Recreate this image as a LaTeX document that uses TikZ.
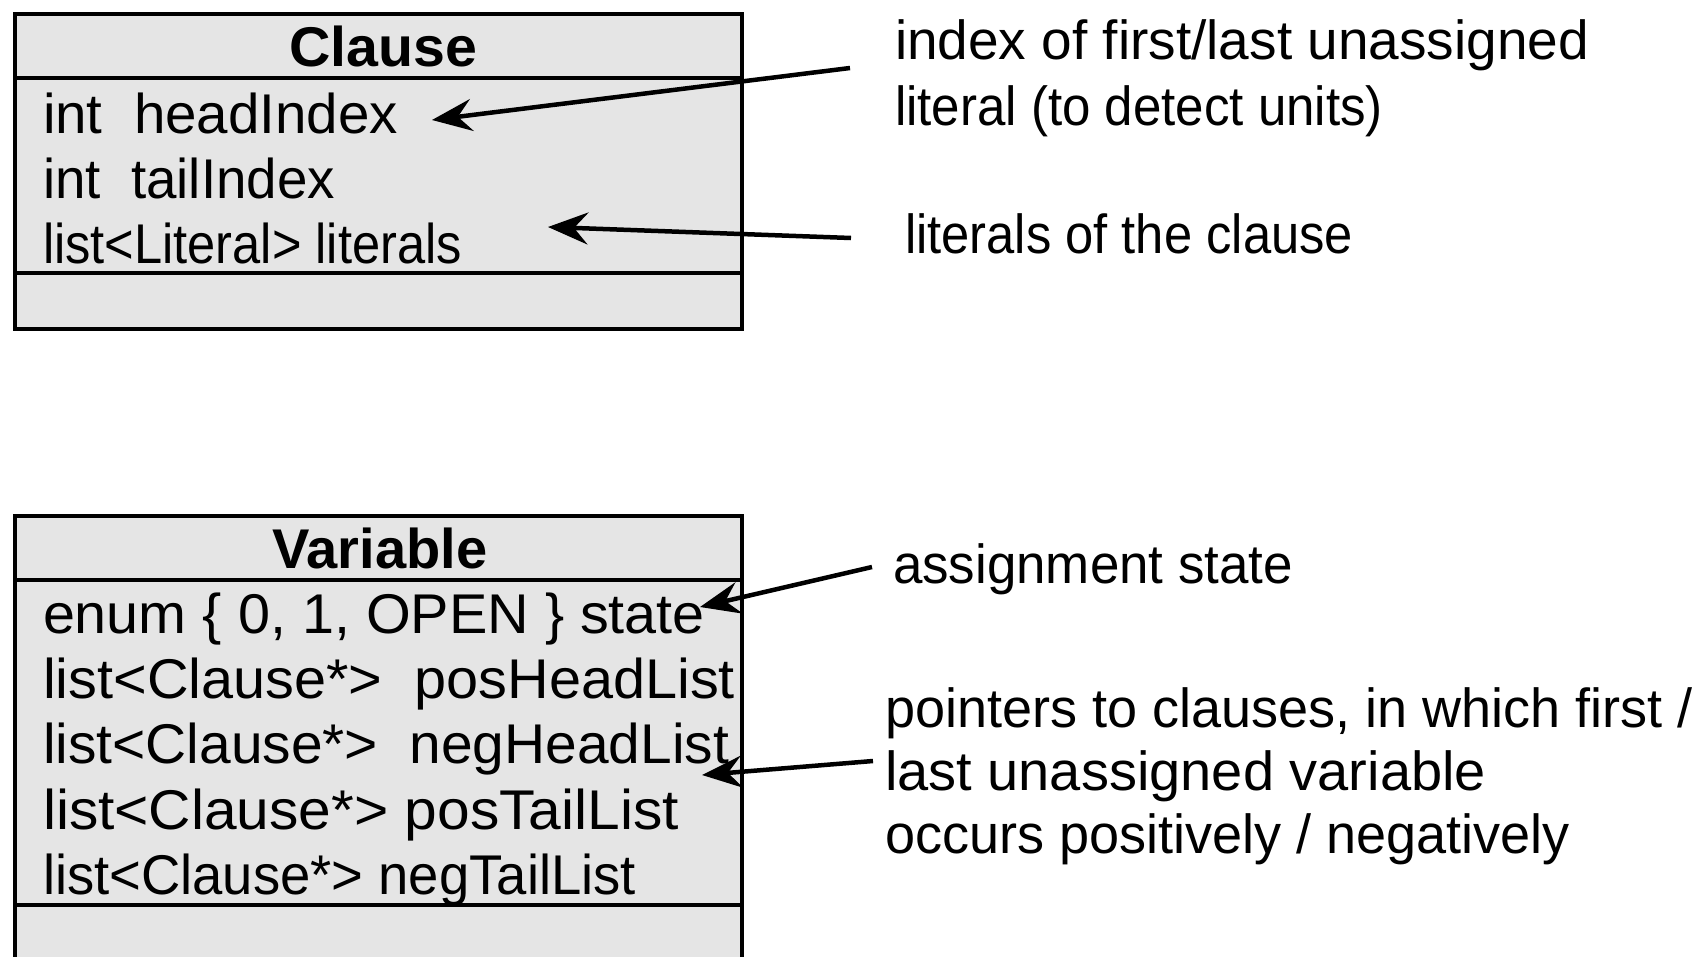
\documentclass[tikz,border=0pt]{standalone}
\usepackage{fontspec}
\setmainfont{Liberation Sans}
\usepackage{graphicx}
\usetikzlibrary{arrows.meta}
\newcommand{\fitwd}[2]{\resizebox{#1bp}{\height}{#2}}
\definecolor{boxgray}{gray}{0.9}
\tikzset{
  umlbox/.style={draw=black, line width=3.5bp, fill=boxgray},
  sepline/.style={draw=black, line width=3.5bp},
  attr/.style={anchor=base west, inner sep=0pt, outer sep=0pt, font=\fontsize{56bp}{60bp}\selectfont},
  ttl/.style={anchor=base, inner sep=0pt, outer sep=0pt, font=\fontsize{56bp}{60bp}\selectfont\bfseries},
  note/.style={anchor=base west, inner sep=0pt, outer sep=0pt, font=\fontsize{55bp}{60bp}\selectfont},
  pointer/.style={draw=black, line width=4.5bp, -{Stealth[length=40bp, width=32bp, inset=14bp]}},
}
\begin{document}
\begin{tikzpicture}[x=1bp, y=-1bp]
\useasboundingbox (0,0) rectangle (1705,956);
\fill[white] (0,0) rectangle (1705,956);
\begin{scope}
\clip (0,0) rectangle (1705,956);
% Clause box
\draw[umlbox] (15,14) rectangle (742,329);
\draw[sepline] (15,78) -- (742,78);
\draw[sepline] (15,273) -- (742,273);
\node[ttl] (clausetitle) at (383.5,66) {\fitwd{188}{Clause}};
\node[attr] (headidx) at (43,133) {\fitwd{355}{int\ \ headIndex}};
\node[attr] (tailidx) at (43,198) {\fitwd{292}{int\ \ tailIndex}};
\node[attr] (lits) at (43,263) {\fitwd{419}{list<Literal> literals}};
% Variable box
\draw[umlbox] (15,516) rectangle (742,990);
\draw[sepline] (15,580) -- (742,580);
\draw[sepline] (15,905) -- (742,905);
\node[ttl] (vartitle) at (380,568) {\fitwd{215}{Variable}};
\node[attr] (state) at (43,633) {\fitwd{662}{enum \{ 0, 1, OPEN \} state}};
\node[attr] (phl) at (43,698) {\fitwd{692}{list<Clause*>\ \ posHeadList}};
\node[attr] (nhl) at (43,763) {\fitwd{686}{list<Clause*>\ \ negHeadList}};
\node[attr] (ptl) at (43,829) {\fitwd{636}{list<Clause*> posTailList}};
\node[attr] (ntl) at (43,894) {\fitwd{593}{list<Clause*> negTailList}};
\end{scope}
% annotations
\node[note] (n1a) at (895,59) {\fitwd{694}{index of first/last unassigned}};
\node[note] (n1b) at (895,125) {\fitwd{488}{literal (to detect units)}};
\node[note] (n2) at (905,253) {\fitwd{448}{literals of the clause}};
\node[note] (n3) at (893,583) {\fitwd{400}{assignment state}};
\node[note] (n4a) at (885,727) {\fitwd{808}{pointers to clauses, in which first /}};
\node[note] (n4b) at (885,790) {\fitwd{601}{last unassigned variable}};
\node[note] (n4c) at (885,853) {\fitwd{685}{occurs positively / negatively}};
% arrow end points
\coordinate (a1s) at (850,68);  \coordinate (a1t) at (432,120);
\coordinate (a2s) at (851,238); \coordinate (a2t) at (548,227);
\coordinate (a3s) at (872,567); \coordinate (a3t) at (700,607);
\coordinate (a4s) at (873,761); \coordinate (a4t) at (702,775);
\draw[pointer] (a1s) -- (a1t);
\draw[pointer] (a2s) -- (a2t);
\draw[pointer] (a3s) -- (a3t);
\draw[pointer] (a4s) -- (a4t);
\end{tikzpicture}
\end{document}
